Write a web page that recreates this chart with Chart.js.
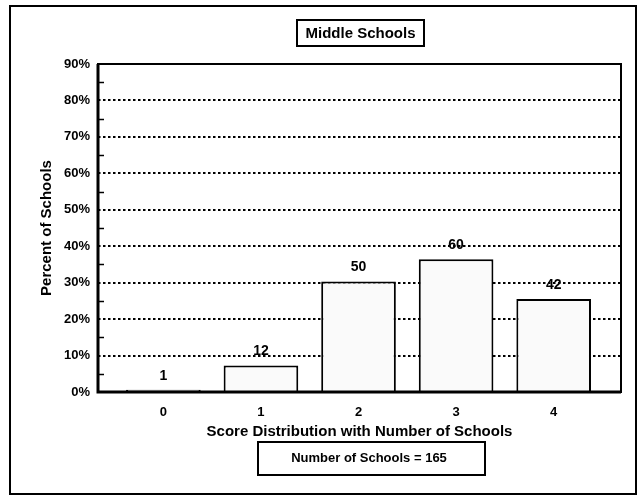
<!DOCTYPE html>
<html>
<head>
<meta charset="utf-8">
<title>Middle Schools</title>
<script src="https://cdn.jsdelivr.net/npm/chart.js@4"></script>
<style>
  body { margin: 0; background: #fff; }
  canvas { display: block; }
</style>
</head>
<body>
<canvas id="scoreChart" width="643" height="496"></canvas>
<script>
// score categories on the x axis
const categories = ["0", "1", "2", "3", "4"];
// percent of schools per score
const percentSchools = [0.6, 7.3, 30.3, 36.4, 25.5];
// number of schools shown above each bar
const schoolCounts = [1, 12, 50, 60, 42];
// y axis tick labels
const yTickValues = [0, 10, 20, 30, 40, 50, 60, 70, 80, 90];
const yTickLabels = ["0%", "10%", "20%", "30%", "40%", "50%", "60%", "70%", "80%", "90%"];

const chartTitle = "Middle Schools";
const xTitle = "Score Distribution with Number of Schools";
const yTitle = "Percent of Schools";
const noteText = "Number of Schools = 165";

const FONT = "'Liberation Sans', Arial, Helvetica, sans-serif";

document.addEventListener("DOMContentLoaded", function () {
    let ctx = document.getElementById("scoreChart").getContext("2d");

    // frame, boxes, minor ticks and count labels
    const decorations = {
        id: "decorations",
        beforeDraw(chart) {
            const c = chart.ctx;
            c.save();
            c.fillStyle = "#fff";
            c.fillRect(0, 0, chart.width, chart.height);
            c.restore();
        },
        afterDatasetsDraw(chart) {
            const c = chart.ctx;
            const area = chart.chartArea;
            const y = chart.scales.y;
            c.save();
            c.strokeStyle = "#000";

            // plot frame
            c.lineWidth = 2;
            c.strokeRect(area.left, area.top, area.right - area.left, area.bottom - area.top);
            c.lineWidth = 3;
            c.beginPath();
            c.moveTo(area.left, area.top);
            c.lineTo(area.left, area.bottom);
            c.lineTo(area.right, area.bottom);
            c.stroke();

            // minor ticks inside the left axis
            c.lineWidth = 1.5;
            for (let v = 5; v < 90; v += 10) {
                let py = Math.round(y.getPixelForValue(v)) + 0.5;
                c.beginPath();
                c.moveTo(area.left, py);
                c.lineTo(area.left + 6, py);
                c.stroke();
            }

            // counts above bars
            let meta = chart.getDatasetMeta(0);
            c.fillStyle = "#000";
            c.font = "bold 14px " + FONT;
            c.textAlign = "center";
            c.textBaseline = "middle";
            meta.data.forEach(function (bar, i) {
                c.fillText(String(schoolCounts[i]), bar.x, bar.y - 14);
            });

            // outer border
            c.lineWidth = 2;
            c.strokeRect(10, 6, 626, 488);

            // title box
            c.lineWidth = 2;
            c.strokeRect(297, 20, 127, 26);
            c.font = "bold 15px " + FONT;
            c.fillText(chartTitle, 360.5, 33.5);

            // note box
            c.strokeRect(258, 442, 227, 33);
            c.font = "bold 13px " + FONT;
            c.fillText(noteText, 369, 458);
            c.restore();
        }
    };

    new Chart(ctx, {
        type: "bar",
        data: {
            datasets: [{
                data: percentSchools.map(function (v, i) { return { x: i, y: v }; }),
                backgroundColor: "#fafafa",
                borderColor: "#000",
                borderWidth: 2,
                barPercentage: 0.765,
                categoryPercentage: 1
            }]
        },
        options: {
            responsive: false,
            animation: false,
            layout: { padding: { left: 0, right: 22, top: 64, bottom: 0 } },
            plugins: {
                legend: { display: false },
                tooltip: { enabled: false }
            },
            scales: {
                x: {
                    type: "linear",
                    offset: false,
                    min: -0.67,
                    max: 4.69,
                    grid: { display: false, drawTicks: false, offset: false },
                    border: { display: false },
                    afterBuildTicks: function (scale) {
                        scale.ticks = categories.map(function (c, i) { return { value: i }; });
                    },
                    afterFit: function (scale) { scale.height = 104; },
                    ticks: {
                        padding: 13,
                        color: "#000",
                        font: { family: FONT, size: 13, weight: "bold" },
                        callback: function (value) { return categories[value]; }
                    },
                    title: {
                        display: true,
                        text: xTitle,
                        color: "#000",
                        padding: { top: 0, bottom: 55 },
                        font: { family: FONT, size: 15, weight: "bold" }
                    }
                },
                y: {
                    min: 0,
                    max: 90,
                    afterBuildTicks: function (scale) {
                        scale.ticks = yTickValues.map(function (v) { return { value: v }; });
                    },
                    afterFit: function (scale) { scale.width = 98; },
                    grid: {
                        drawTicks: false,
                        lineWidth: 2,
                        color: function (c) {
                            let v = c.tick ? c.tick.value : 0;
                            return (v === 0 || v === 90) ? "rgba(0,0,0,0)" : "#000";
                        }
                    },
                    border: { display: false, dash: [2.5, 2.5] },
                    ticks: {
                        padding: 8,
                        color: "#000",
                        font: { family: FONT, size: 13, weight: "bold" },
                        callback: function (value) {
                            return yTickLabels[yTickValues.indexOf(value)];
                        }
                    },
                    title: {
                        display: true,
                        text: yTitle,
                        color: "#000",
                        padding: { top: 38, bottom: 0 },
                        font: { family: FONT, size: 15, weight: "bold" }
                    }
                }
            }
        },
        plugins: [decorations]
    });
});
</script>
</body>
</html>
